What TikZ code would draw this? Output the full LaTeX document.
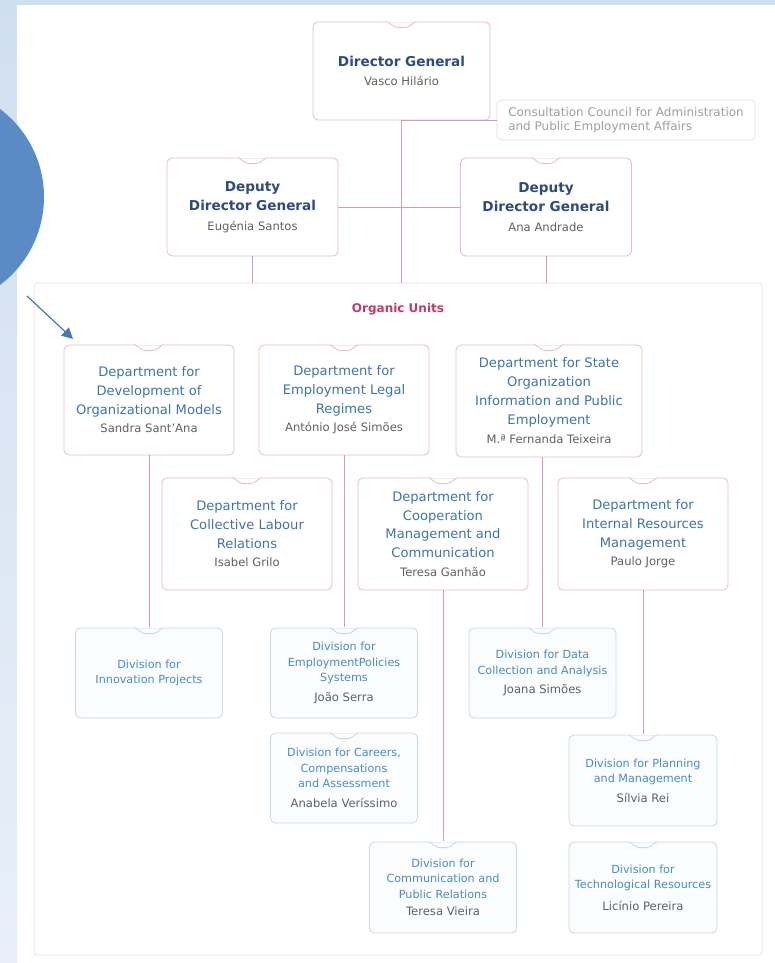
\documentclass[tikz,border=0pt]{standalone}
\usepackage{fontspec}
\setmainfont{DejaVu Sans}
\usetikzlibrary{positioning,arrows.meta}

\definecolor{bgblue}{HTML}{D0DFF0}
\definecolor{bglight}{HTML}{E8EFF8}
\definecolor{panelline}{HTML}{EFD9DF}
\definecolor{boxpink}{HTML}{E3BFCA}
\definecolor{linkpink}{HTML}{D59AAB}
\definecolor{divline}{HTML}{C7D9E2}
\definecolor{divfill}{HTML}{FAFCFE}
\definecolor{navy}{HTML}{2D4B7E}
\definecolor{deptblue}{HTML}{3E74A9}
\definecolor{divblue}{HTML}{4A8DBE}
\definecolor{namegrey}{HTML}{606060}
\definecolor{unitred}{HTML}{C23A63}
\definecolor{circleblue}{HTML}{5B8BC5}
\definecolor{arrowblue}{HTML}{4677B8}

\newcommand{\who}[1]{{\mdseries\fontsize{11.6}{13}\selectfont\color{namegrey}#1}}

\begin{document}
\begin{tikzpicture}[
    x=1pt, y=-1pt,
    box/.style={draw=boxpink, line width=0.8pt, rounded corners=5pt, fill=white, align=center, inner sep=2pt},
    chief/.style={box, minimum width=177pt, minimum height=98pt, text=navy, font=\fontsize{13.6}{19.5}\selectfont\bfseries},
    deputy/.style={chief, minimum width=171pt},
    council/.style={draw=gray!25, line width=0.6pt, rounded corners=4pt, fill=white, align=left, text=gray!75, minimum width=258pt, minimum height=40pt, inner sep=2pt, font=\fontsize{12}{13.5}\selectfont},
    panel/.style={draw=panelline, line width=0.8pt, rounded corners=3pt, fill=white, minimum width=728pt, minimum height=672pt},
    dept/.style={box, minimum width=170pt, minimum height=110pt, text=deptblue, font=\fontsize{13.1}{18.7}\selectfont},
    division/.style={box, draw=divline, fill=divfill, minimum width=147pt, minimum height=90pt, text=divblue, font=\fontsize{11.2}{15.5}\selectfont},
    link/.style={draw=linkpink, line width=0.8pt},
    notch/.style={line width=0.8pt, rounded corners=3pt}
]
\useasboundingbox (0,0) rectangle (775,963);

% Background
\shade[top color=bgblue, bottom color=bglight] (0,0) rectangle (775,963);
\fill[white] (17,5) rectangle (775,963);
\begin{scope}
\clip (0,0) rectangle (775,963);
\fill[circleblue] (-66,197) circle [radius=110];
\end{scope}

% Direction
\node[chief] (dg) at (401.5,71) {Director General\\\who{Vasco Hilário}};
\node[council] (cncl) at (626,120) {Consultation Council for Administration\\and Public Employment Affairs};
\node[deputy] (dl) at (252.5,207) {Deputy\\Director General\\\who{Eugénia Santos}};
\node[deputy] (dr) at (546,207) {Deputy\\Director General\\\who{Ana Andrade}};

% Organic units
\node[panel] (units) at (398,619) {};
\node[text=unitred, font=\fontsize{12}{14}\selectfont\bfseries] (unitsttl) at (398,309) {Organic Units};

% Departments
\node[dept] (d1) at (149,400) {Department for\\Development of\\Organizational Models\\\who{Sandra Sant'Ana}};
\node[dept] (d2) at (344,400) {Department for\\Employment Legal\\Regimes\\\who{António José Simões}};
\node[dept, minimum width=186pt, minimum height=112pt] (d3) at (549,401) {Department for State\\Organization\\Information and Public\\Employment\\[1pt]\who{M.ª Fernanda Teixeira}};
\node[dept, minimum height=112pt] (d4) at (247,534) {Department for\\Collective Labour\\Relations\\\who{Isabel Grilo}};
\node[dept, minimum height=112pt] (d5) at (443,534) {Department for\\Cooperation\\Management and\\Communication\\\who{Teresa Ganhão}};
\node[dept, minimum height=112pt] (d6) at (643,534) {Department for\\Internal Resources\\Management\\\who{Paulo Jorge}};

% Divisions
\node[division] (v1) at (149,673) {Division for\\Innovation Projects};
\node[division] (v2) at (344,673) {Division for\\EmploymentPolicies\\Systems\\[4pt]\who{João Serra}};
\node[division] (v3) at (344,778) {Division for Careers,\\Compensations\\and Assessment\\[4pt]\who{Anabela Veríssimo}};
\node[division] (v4) at (542.5,673) {Division for Data\\Collection and Analysis\\[4pt]\who{Joana Simões}};
\node[division, minimum height=91pt] (v5) at (443,887.5) {Division for\\Communication and\\Public Relations\\[2pt]\who{Teresa Vieira}};
\node[division, minimum width=148pt, minimum height=91pt] (v6) at (643,780.5) {Division for Planning\\and Management\\[4pt]\who{Sílvia Rei}};
\node[division, minimum width=148pt, minimum height=91pt] (v7) at (643,887.5) {Division for\\Technological Resources\\[6pt]\who{Licínio Pereira}};

% Connections
\draw[link] (dg) -- (dg |- units.north);
\draw[link] (cncl.west) -- (cncl.west -| dg.south);
\draw[link] (dl) -- (dr);
\draw[link] (dl) -- (dl |- units.north);
\draw[link] (dr) -- (dr |- units.north);
\foreach \a/\b in {d1/v1, d2/v2, d5/v5, d6/v6} {
    \draw[link] (\a) -- (\b);
}
\draw[link] (v4.north) -- (v4.north |- d3.south);

% Notches on top of the boxes
\foreach \n in {dg,dl,dr,d1,d2,d3,d4,d5,d6} {
    \fill[white] ([xshift=-13.5pt,yshift=1pt]\n.north) rectangle ([xshift=13.5pt,yshift=-0.6pt]\n.north);
    \draw[notch, boxpink] ([xshift=-14pt]\n.north) -- ([xshift=-6pt,yshift=-6pt]\n.north) -- ([xshift=6pt,yshift=-6pt]\n.north) -- ([xshift=14pt]\n.north);
}
\foreach \n in {v1,v2,v3,v4,v5,v6,v7} {
    \fill[white] ([xshift=-13.5pt,yshift=1pt]\n.north) rectangle ([xshift=13.5pt,yshift=-0.6pt]\n.north);
    \draw[notch, divline] ([xshift=-14pt]\n.north) -- ([xshift=-6pt,yshift=-6pt]\n.north) -- ([xshift=6pt,yshift=-6pt]\n.north) -- ([xshift=14pt]\n.north);
}

% Pointer
\coordinate (ptrtail) at (27,296);
\coordinate (ptrtip) at (73,339);
\draw[arrowblue, line width=1.2pt, -{Triangle[width=11pt,length=11pt]}] (ptrtail) -- (ptrtip);

\end{tikzpicture}
\end{document}
